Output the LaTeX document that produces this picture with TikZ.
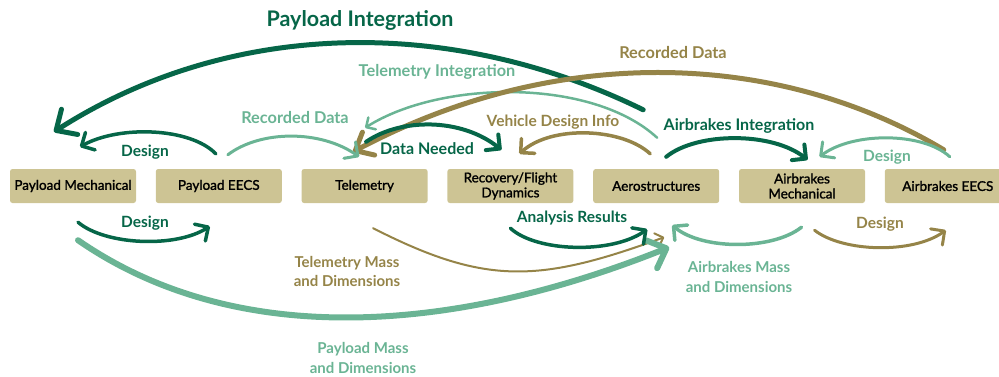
\documentclass[tikz,border=0pt]{standalone}
\usepackage{fontspec}
\setmainfont{Lato}
\newfontfamily\boxfont{Lato}[FakeBold=1.5]
\usepackage{tikz}
\usetikzlibrary{positioning,arrows.meta,calc}
\definecolor{dkgreen}{RGB}{6,102,72}
\definecolor{ltgreen}{RGB}{106,180,148}
\definecolor{gold}{RGB}{149,132,72}
\definecolor{boxtan}{RGB}{205,196,148}
\begin{document}
\begin{tikzpicture}[x=1pt,y=-1pt,line cap=round,
  box/.style={fill=boxtan,rounded corners=2.5pt,minimum width=126pt,minimum height=34pt,inner sep=1pt,align=center,font=\boxfont\fontsize{13.5}{15}\selectfont},
  lbl/.style={align=center,font=\bfseries\fontsize{15.5}{19}\selectfont},
  big/.style={-{Straight Barb[length=16pt,width=30pt,round]}},
  mid/.style={-{Straight Barb[length=10pt,width=20pt,round]}},
  sml/.style={-{Straight Barb[length=7pt,width=14pt,round]}}]
  \useasboundingbox (0,0) rectangle (999,376);
  % subsystem boxes
  \node[box](pm) at (73,186){Payload Mechanical};
  \node[box,right=19.4pt of pm](pe){Payload EECS};
  \node[box,right=19.4pt of pe](tel){Telemetry};
  \node[box,right=19.4pt of tel](rec){Recovery/Flight\\Dynamics};
  \node[box,right=19.4pt of rec](aero){Aerostructures};
  \node[box,right=19.4pt of aero](abm){Airbrakes\\Mechanical};
  \node[box,right=19.4pt of abm](abe){Airbrakes EECS};
  % long arcs over the top
  \draw[dkgreen,line width=5pt,big]($(aero.north)+(-13,-59)$) .. controls +(-194,-95) and +(175,-112) .. ($(pm.north)+(-19,-37)$);
  \draw[ltgreen,line width=2.5pt,sml]($(aero.north)+(1,-31)$) .. controls +(-65,-60) and +(76,-48) .. ($(tel.north)+(0.5,-41)$);
  \draw[gold,line width=5pt,-{Straight Barb[length=15pt,width=26pt,round]}]($(abe.north)+(-4,-19)$) .. controls +(-167,-100) and +(203,-108) .. ($(tel.north)+(-11.5,-17)$);
  % short arcs above the boxes
  \draw[ltgreen,line width=3pt,mid]($(pe.north)+(9,-14)$) .. controls +(33,-25) and +(-38,-27) .. ($(tel.north)+(-5.5,-12)$);
  \draw[dkgreen,line width=3.5pt,mid]($(pe.north)+(-3,-15)$) .. controls +(-25,-26) and +(40,-22) .. ($(pm.north)+(7,-22)$);
  \draw[dkgreen,line width=4pt,mid]($(tel.north)+(1.5,-27)$) .. controls +(35,-24) and +(-40,-32) .. ($(rec.north)+(-9,-19)$);
  \draw[gold,line width=3.5pt,mid]($(aero.north)+(-6,-15)$) .. controls +(-28,-26) and +(32,-29) .. ($(rec.north)+(9,-15)$);
  \draw[dkgreen,line width=4pt,mid]($(aero.north)+(10,-12)$) .. controls +(31,-25) and +(-35,-28) .. ($(abm.north)+(5.5,-9)$);
  \draw[ltgreen,line width=3pt,mid]($(abe.north)+(2,-12)$) .. controls +(-27,-25) and +(33,-25) .. ($(abm.north)+(17.5,-12)$);
  % arcs below the boxes
  \draw[dkgreen,line width=3.5pt,mid]($(pm.south)+(5,19)$) .. controls +(27,23) and +(-34,22) .. ($(pe.south)+(-9,23)$);
  \draw[gold,line width=2pt,sml]($(tel.south)+(8.5,25)$) .. controls +(112,57) and +(-126,46) .. ($(aero.south)+(8,34)$);
  \draw[ltgreen,line width=6pt,big]($(pm.south)+(5,37)$) .. controls +(156,108) and +(-220,88) .. ($(aero.south)+(13,44)$);
  \draw[dkgreen,line width=3.5pt,mid]($(rec.south)+(0,25)$) .. controls +(26,24) and +(-35,25) .. ($(aero.south)+(-9,26)$);
  \draw[ltgreen,line width=3.5pt,mid]($(abm.south)+(-0.5,24)$) .. controls +(-29,23) and +(30,25) .. ($(aero.south)+(16,22)$);
  \draw[gold,line width=3pt,mid]($(abm.south)+(12.5,27)$) .. controls +(28,22) and +(-33,24) .. ($(abe.south)+(-2,27)$);
  % labels
  \node[lbl,dkgreen,font=\bfseries\fontsize{21.5}{24}\selectfont](tpi) at (360,20){Payload Integration};
  \node[lbl,ltgreen,font=\bfseries\fontsize{16.3}{19}\selectfont](tti) at (437,72){Telemetry Integration};
  \node[lbl,gold,font=\bfseries\fontsize{16.3}{19}\selectfont](trd) at (673,53){Recorded Data};
  \node[lbl,ltgreen,font=\bfseries\fontsize{16.3}{19}\selectfont](trd2) at (295,118){Recorded Data};
  \node[lbl,dkgreen](td1) at (145,152){Design};
  \node[lbl,dkgreen,font=\bfseries\fontsize{16}{19}\selectfont](tdn) at (427,149){Data Needed};
  \node[lbl,gold](tvd) at (553,122){Vehicle Design Info};
  \node[lbl,dkgreen,font=\bfseries\fontsize{16}{19}\selectfont](tai) at (739,126){Airbrakes Integration};
  \node[lbl,ltgreen](td2) at (887,157){Design};
  \node[lbl,dkgreen](td3) at (145,223){Design};
  \node[lbl,dkgreen](tar) at (572,218){Analysis Results};
  \node[lbl,gold](td4) at (880,224){Design};
  \node[lbl,gold,font=\bfseries\fontsize{15}{19}\selectfont](ttm) at (347,271){Telemetry Mass\\and Dimensions};
  \node[lbl,ltgreen,font=\bfseries\fontsize{15}{20}\selectfont](tam) at (739,277){Airbrakes Mass\\and Dimensions};
  \node[lbl,ltgreen,font=\bfseries\fontsize{15}{20}\selectfont](tpm) at (363,358){Payload Mass\\and Dimensions};
\end{tikzpicture}
\end{document}
